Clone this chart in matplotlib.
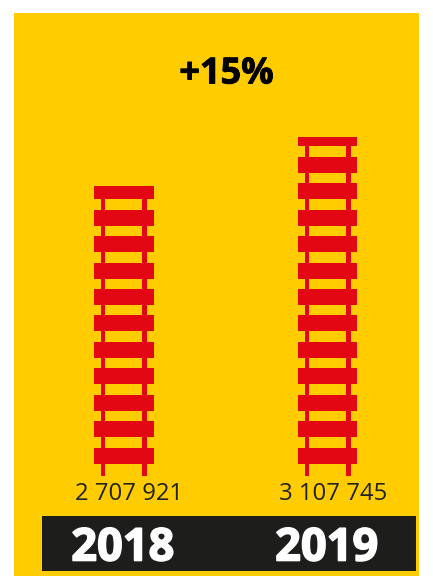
import matplotlib
matplotlib.use("Agg")
import matplotlib.pyplot as plt
import matplotlib.patheffects as pe
from matplotlib.patches import Rectangle

W = 433.
H = 576.

years = ["2018", "2019"]
passengers = [2707921, 3107745]
value_labels = ["2 707 921", "3 107 745"]
change_label = "+15%"

YELLOW = "#ffcc00"
RED = "#e30613"
DARK = "#1d1d1b"

# track pieces in value units (about 8160 per pixel)
PER_PX = 399824 / 49.
BASE = passengers[0] - 290 * PER_PX
TIE_START = BASE + 12 * PER_PX
TIE_STEP = 26.5 * PER_PX
TIE_H = 16 * PER_PX

plt.rcParams["font.family"] = ["Open Sans", "DejaVu Sans"]

fig = plt.figure(figsize=(W / 100, H / 100), dpi=100, facecolor="white")


def fig_box(x0, y0, x1, y1):
    return [x0 / W, 1 - y1 / H, (x1 - x0) / W, (y1 - y0) / H]


def add_rect(x0, y0, x1, y1, color):
    l, b, w, h = fig_box(x0, y0, x1, y1)
    fig.patches.append(Rectangle((l, b), w, h, transform=fig.transFigure, facecolor=color, edgecolor="none", zorder=-1))


add_rect(14, 13, 419, 576, YELLOW)
add_rect(42, 516, 416, 571, DARK)

ax = fig.add_axes(fig_box(14, 13, 419, 476))
ax.patch.set_alpha(0)
ax.axis("off")
ax.set_xlim(-(123.75 - 14) / 203.9, 1 + (419 - 327.65) / 203.9)
ax.set_ylim(BASE, BASE + 463 * PER_PX)

for i, value in enumerate(passengers):
    ax.bar([i - 0.102, i + 0.102], value - BASE, bottom=BASE, width=0.0226, color=RED)
    tie = TIE_START
    while tie < value:
        ax.bar(i, min(tie + TIE_H, value) - tie, bottom=tie, width=0.292, color=RED)
        tie += TIE_STEP
    x_fig = ax.transData.transform((i, BASE))[0] / W / fig.dpi * 100
    fig.text(x_fig + 5.5 / W, 1 - 494.5 / H, value_labels[i], ha="center", va="center", fontsize=17.2, color="#222222")
    year = fig.text(x_fig - 1 / W, 1 - 549 / H, years[i], ha="center", va="center", fontsize=32.5, fontweight="bold", color="white")
    year.set_path_effects([pe.withStroke(linewidth=1.2, foreground="white")])

title = fig.text(226.5 / W, 1 - 74.5 / H, change_label, ha="center", va="center", fontsize=26, fontweight="bold", color="black")
title.set_path_effects([pe.withStroke(linewidth=0.6, foreground="black")])

fig.savefig("out.png", dpi=100)
